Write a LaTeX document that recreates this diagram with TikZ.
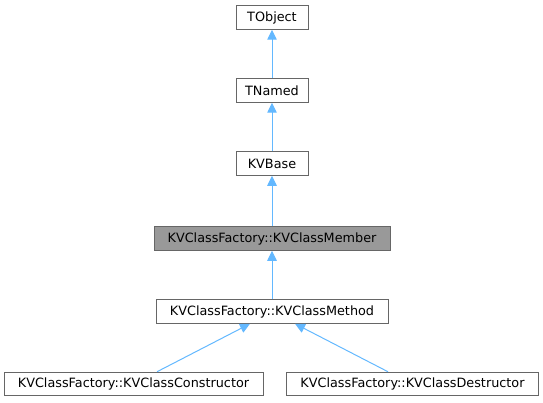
\documentclass[tikz,border=0pt]{standalone}
\usepackage{fontspec}
\setmainfont{DejaVu Sans}
\usetikzlibrary{arrows.meta}

\newlength{\du}
\setlength{\du}{0.75pt}
\definecolor{edgeblue}{rgb}{0.388235, 0.721569, 1.000000}
\definecolor{boxline}{rgb}{0.400000, 0.400000, 0.400000}
\definecolor{boxgrey}{rgb}{0.600000, 0.600000, 0.600000}

\tikzset{
  classbox/.style={draw=boxline, fill=white, line width=1\du, rectangle,
    inner sep=0pt, minimum height=23.5\du, font=\fontsize{9.6}{11}\selectfont},
  thisclass/.style={classbox, fill=boxgrey},
  inherit/.style={draw=edgeblue, line width=1\du,
    -{Triangle[length=7.5pt, width=7.1pt]}},
}

\begin{document}
\begin{tikzpicture}[x=1\du, y=-1\du]
\useasboundingbox (0,0) rectangle (543,403);
% classes
\node[classbox, minimum width=72\du] (tobject) at (272,17.5) {TObject};
\node[classbox, minimum width=72\du] (tnamed) at (272,90.5) {TNamed};
\node[classbox, minimum width=72\du] (kvbase) at (272,163.5) {KVBase};
\node[thisclass, minimum width=236\du] (member) at (272,238.5) {KVClassFactory::KVClassMember};
\node[classbox, minimum width=232\du] (method) at (272,311.5) {KVClassFactory::KVClassMethod};
\node[classbox, minimum width=259\du] (ctor) at (133.5,384) {KVClassFactory::KVClassConstructor};
\node[classbox, minimum width=252\du] (dtor) at (412.5,384) {KVClassFactory::KVClassDestructor};
% inheritance
\draw[inherit] (tnamed) -- (tobject);
\draw[inherit] (kvbase) -- (tnamed);
\draw[inherit] (member) -- (kvbase);
\draw[inherit] (method) -- (member);
\draw[inherit] ([xshift=23.5\du]ctor.north) -- ([xshift=-22\du]method.south);
\draw[inherit] ([xshift=-24.5\du]dtor.north) -- ([xshift=23\du]method.south);
\end{tikzpicture}
\end{document}
